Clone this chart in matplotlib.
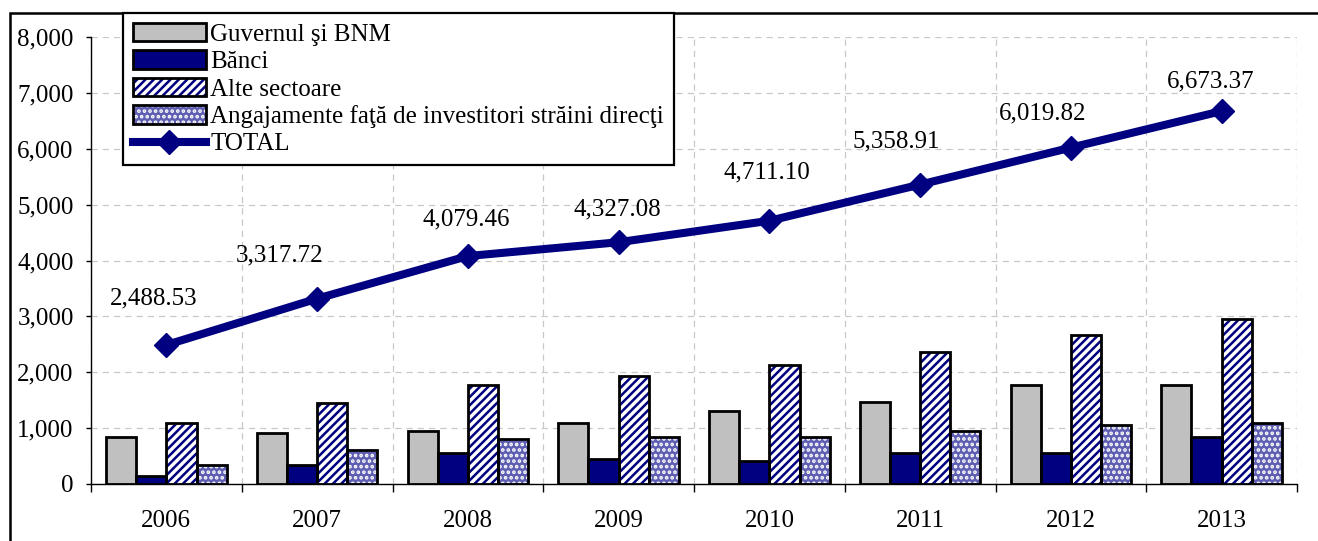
import matplotlib
matplotlib.use('Agg')
import matplotlib.pyplot as plt
from matplotlib.patches import Patch, Rectangle
from matplotlib.lines import Line2D
from matplotlib.ticker import FuncFormatter

# data
years = ['2006', '2007', '2008', '2009', '2010', '2011', '2012', '2013']
guvern = [850, 905, 955, 1100, 1305, 1465, 1765, 1765]
banci = [150, 345, 555, 445, 405, 555, 555, 845]
alte = [1100, 1455, 1765, 1925, 2130, 2370, 2660, 2960]
isd = [345, 605, 800, 845, 845, 955, 1055, 1100]
total = [2488.53, 3317.72, 4079.46, 4327.08, 4711.10, 5358.91, 6019.82, 6673.37]

series_names = ['Guvernul şi BNM', 'Bănci', 'Alte sectoare',
                'Angajamente faţă de investitori străini direcţi', 'TOTAL']

# where each total label sits relative to its point (pixels, dx, dy)
label_offsets = [(-13, 47), (-38, 43), (-2, 37), (-1, 33),
                 (-3, 48), (-24, 43), (-28, 34), (-11, 30)]

NAVY = '#000080'
GREY = '#c0c0c0'
DOTS = '#5e5eb2'

plt.rcParams['font.family'] = ['Liberation Serif', 'DejaVu Serif']
plt.rcParams['font.size'] = 18
plt.rcParams['hatch.linewidth'] = 1.8    # read at draw time, shared by all hatches

W, H = 1318, 541
fig = plt.figure(figsize=(W / 100, H / 100), dpi=100)
fig.patch.set_facecolor('white')
ax = fig.add_axes([91 / W, 57 / H, (1297 - 91) / W, (484 - 37) / H])

n = len(years)
centers = [i + 0.5 for i in range(n)]
bw = 0.2
elw = 2.0


def hatched_bars(ax, xs, heights, face, hatch, hcolor):
    # hatch takes the edge colour, so draw the black outline on top separately
    ax.bar(xs, heights, bw, color=face, edgecolor=hcolor,
           linewidth=0, hatch=hatch, zorder=2)
    ax.bar(xs, heights, bw, fill=False, edgecolor='black', linewidth=elw, zorder=3)


ax.bar([c - 0.3 for c in centers], guvern, bw, color=GREY,
       edgecolor='black', linewidth=elw, zorder=3)
ax.bar([c - 0.1 for c in centers], banci, bw, color=NAVY,
       edgecolor='black', linewidth=elw, zorder=3)
hatched_bars(ax, [c + 0.1 for c in centers], alte, 'white', '////', NAVY)
hatched_bars(ax, [c + 0.3 for c in centers], isd, DOTS, '...', 'white')

ax.plot(centers, total, color=NAVY, lw=5.8, marker='D', ms=12, zorder=4)
for c, v, (dx, dy) in zip(centers, total, label_offsets):
    ax.annotate('{:,.2f}'.format(v), (c, v), xytext=(dx, dy),
                textcoords='offset pixels', ha='center', va='center')

ax.set_xlim(0, n)
ax.set_ylim(0, 8000)
ax.set_yticks(range(0, 8001, 1000))
ax.yaxis.set_major_formatter(FuncFormatter(lambda x, p: '{:,.0f}'.format(x)))
ax.set_xticks(range(0, n + 1))
ax.set_xticklabels([])
ax.set_xticks(centers, minor=True)
ax.set_xticklabels(years, minor=True)
ax.tick_params(axis='x', which='major', length=6, width=1, direction='out')
ax.tick_params(axis='x', which='minor', length=0, pad=19)
ax.tick_params(axis='y', length=3.5, width=1, pad=9)

ax.set_axisbelow(True)
ax.grid(True, which='major', color='#c8c8c8', linestyle=(0, (5, 4)), linewidth=0.9)
for side in ['top', 'right']:
    ax.spines[side].set_visible(False)
ax.spines['left'].set_linewidth(1)
ax.spines['bottom'].set_linewidth(1)

# legend with overlay handles so hatch colour differs from the outline
handles = [
    Patch(facecolor=GREY, edgecolor='black', linewidth=elw),
    Patch(facecolor=NAVY, edgecolor='black', linewidth=elw),
    (Patch(facecolor='white', edgecolor=NAVY, linewidth=0, hatch='////'),
     Patch(fill=False, edgecolor='black', linewidth=elw)),
    (Patch(facecolor=DOTS, edgecolor='white', linewidth=0, hatch='...'),
     Patch(fill=False, edgecolor='black', linewidth=elw)),
    Line2D([], [], color=NAVY, lw=5.8, marker='D', ms=12),
]
leg = fig.legend(handles, series_names, loc='upper left',
                 bbox_to_anchor=(123 / W, 1 - 13 / H), frameon=True,
                 fancybox=False, edgecolor='black', framealpha=1,
                 borderpad=0.4, labelspacing=0.18, handlelength=2.9,
                 handleheight=0.75, handletextpad=0.2, borderaxespad=0)
leg.get_frame().set_linewidth(1.6)

# outer frame, cut off on the right and bottom
fig.add_artist(Rectangle((10 / W, -0.1), 1.2, 1 - 13 / H + 0.1,
                         transform=fig.transFigure, fill=False,
                         edgecolor='black', linewidth=1.8, clip_on=False))

fig.savefig('out.png', dpi=100)
